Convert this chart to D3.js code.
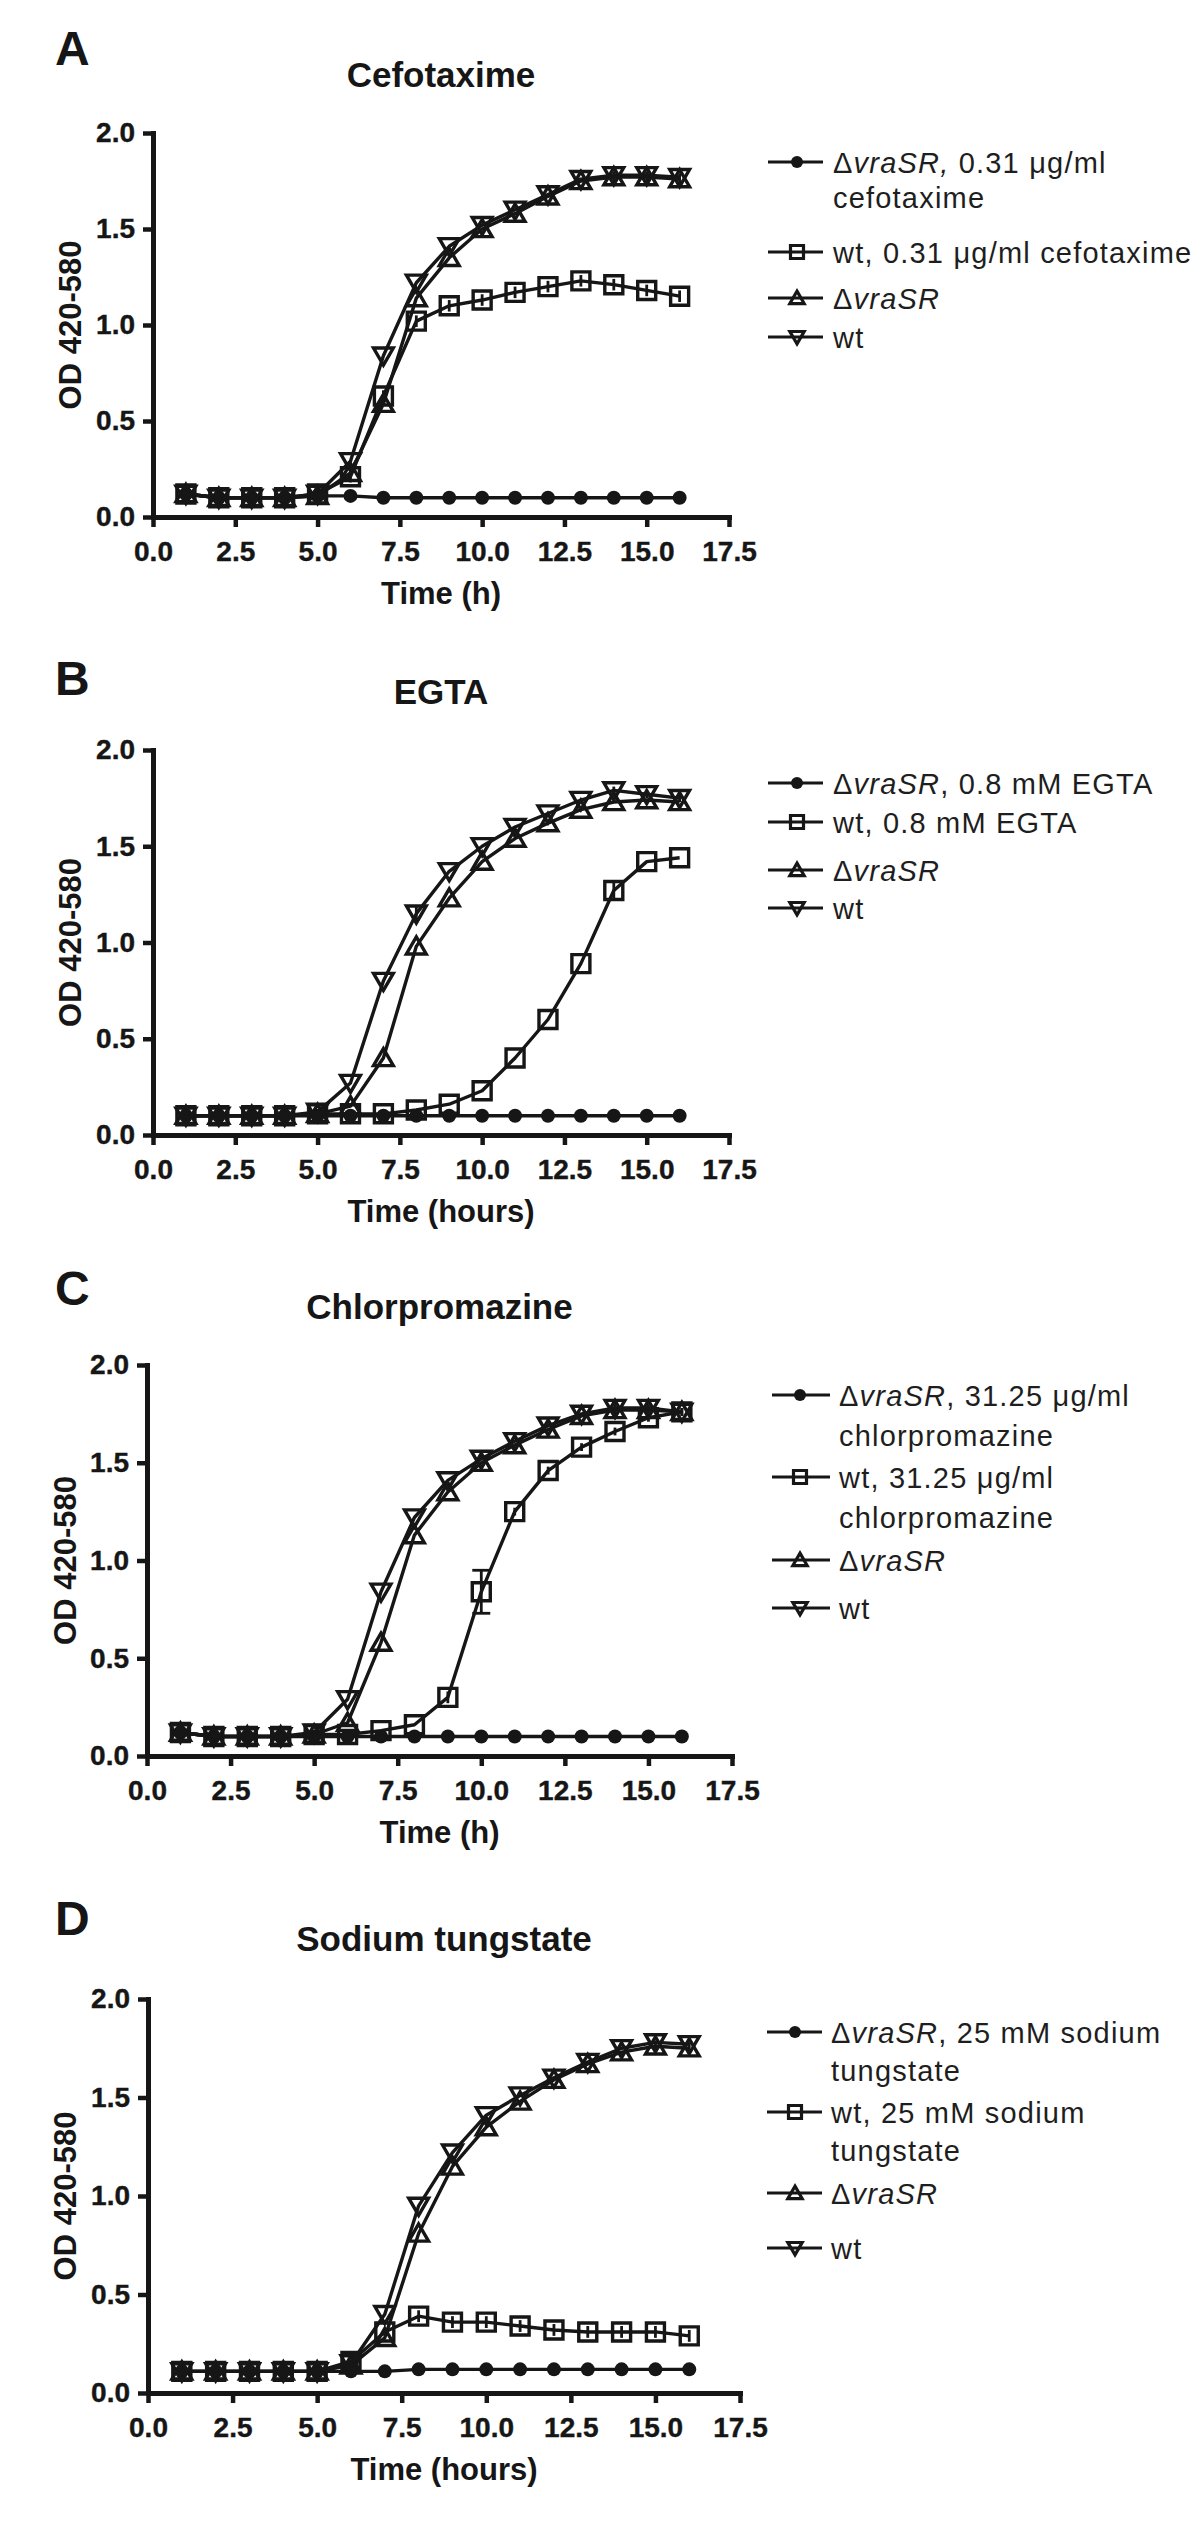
<!DOCTYPE html>
<html><head><meta charset="utf-8">
<script src="https://cdn.jsdelivr.net/npm/d3@7"></script>
<style>body{margin:0;background:#fff}</style>
</head><body>
<svg id="c" width="1200" height="2540" xmlns="http://www.w3.org/2000/svg"></svg>
<script>
// ---------- DATA ----------
const hours = [1,2,3,4,5,6,7,8,9,10,11,12,13,14,15,16];
const xTicks = [0,2.5,5,7.5,10,12.5,15,17.5];
const yTicks = [0,0.5,1,1.5,2];
const yLabel = "OD 420-580";

// Panel A – Cefotaxime
const aCircle = [0.12,0.10,0.10,0.10,0.11,0.11,0.10,0.10,0.10,0.10,0.10,0.10,0.10,0.10,0.10,0.10];
const aSquare = [0.12,0.10,0.10,0.10,0.12,0.21,0.63,1.02,1.10,1.13,1.17,1.20,1.23,1.21,1.18,1.15];
const aUp     = [0.12,0.10,0.10,0.10,0.11,0.23,0.59,1.14,1.35,1.50,1.58,1.67,1.75,1.77,1.77,1.76];
const aDown   = [0.12,0.10,0.10,0.10,0.12,0.29,0.84,1.22,1.41,1.52,1.60,1.68,1.76,1.78,1.78,1.77];
const aSquareErr = [0,0,0,0,0,0.03,0.03,0.03,0.03,0.03,0.03,0.03,0.03,0.03,0.03,0.03];
const aUpErr     = [0,0,0,0,0,0,0,0,0,0,0,0,0,0.03,0.03,0.03];

// Panel B – EGTA
const bCircle = [0.10,0.10,0.10,0.10,0.10,0.10,0.10,0.10,0.10,0.10,0.10,0.10,0.10,0.10,0.10,0.10];
const bSquare = [0.10,0.10,0.10,0.10,0.11,0.11,0.11,0.13,0.16,0.23,0.40,0.60,0.89,1.27,1.42,1.44];
const bUp     = [0.10,0.10,0.10,0.10,0.11,0.15,0.40,0.98,1.23,1.42,1.54,1.62,1.69,1.73,1.74,1.73];
const bDown   = [0.10,0.10,0.10,0.10,0.12,0.27,0.80,1.15,1.37,1.50,1.60,1.67,1.74,1.79,1.77,1.75];
const bSquareErr = [0,0,0,0,0,0,0,0,0,0,0,0,0,0.05,0,0];
const bDownErr   = [0,0,0,0,0,0,0,0.04,0,0,0,0,0,0.02,0.02,0.02];

// Panel C – Chlorpromazine
const cCircle = [0.12,0.10,0.10,0.10,0.10,0.10,0.10,0.10,0.10,0.10,0.10,0.10,0.10,0.10,0.10,0.10];
const cSquare = [0.12,0.10,0.10,0.10,0.11,0.11,0.13,0.16,0.30,0.84,1.25,1.46,1.58,1.66,1.73,1.76];
const cUp     = [0.12,0.10,0.10,0.10,0.11,0.17,0.58,1.13,1.35,1.50,1.59,1.67,1.74,1.77,1.77,1.76];
const cDown   = [0.12,0.10,0.10,0.10,0.12,0.29,0.84,1.22,1.41,1.52,1.61,1.69,1.75,1.78,1.78,1.76];
const cSquareErr = [0,0,0,0,0,0,0,0,0.03,0.11,0.02,0.02,0.02,0.02,0.02,0.02];
const cUpErr     = [0.02,0,0,0,0,0,0,0,0,0,0,0,0,0.03,0.03,0.02];

// Panel D – Sodium tungstate
const dCircle = [0.11,0.11,0.11,0.11,0.11,0.11,0.11,0.12,0.12,0.12,0.12,0.12,0.12,0.12,0.12,0.12];
const dSquare = [0.11,0.11,0.11,0.11,0.11,0.16,0.31,0.39,0.36,0.36,0.34,0.32,0.31,0.31,0.31,0.29];
const dUp     = [0.11,0.11,0.11,0.11,0.11,0.14,0.28,0.81,1.15,1.35,1.48,1.59,1.67,1.73,1.76,1.75];
const dDown   = [0.11,0.11,0.11,0.11,0.11,0.15,0.40,0.95,1.22,1.41,1.51,1.60,1.68,1.75,1.78,1.77];
const dSquareErr = [0,0,0,0,0,0,0.02,0.03,0.03,0.03,0.03,0.03,0.03,0.03,0.03,0.03];
const dUpErr     = [0,0,0,0,0,0,0,0,0,0,0,0,0,0,0.02,0.03];

const titles  = ["Cefotaxime","EGTA","Chlorpromazine","Sodium tungstate"];
const letters = ["A","B","C","D"];
const xLabels = ["Time (h)","Time (hours)","Time (h)","Time (hours)"];
const legendA = [["Δ<i>vraSR,</i> 0.31 μg/ml","cefotaxime"],["wt, 0.31 μg/ml cefotaxime"],["Δ<i>vraSR</i>"],["wt"]];
const legendB = [["Δ<i>vraSR</i>, 0.8 mM EGTA"],["wt, 0.8 mM EGTA"],["Δ<i>vraSR</i>"],["wt"]];
const legendC = [["Δ<i>vraSR</i>, 31.25 μg/ml","chlorpromazine"],["wt, 31.25 μg/ml","chlorpromazine"],["Δ<i>vraSR</i>"],["wt"]];
const legendD = [["Δ<i>vraSR</i>, 25 mM sodium","tungstate"],["wt, 25 mM sodium","tungstate"],["Δ<i>vraSR</i>"],["wt"]];

// ---------- LAYOUT ----------
const layouts = [
  {x0:153,x1:729,yTop:133,yBot:517,letterY:65,titleY:87,yLabX:81,
   leg:{lx0:768,lx1:823,mx:797,tx:833,rows:[162,252,298,337],lh:35}},
  {x0:153,x1:729,yTop:750,yBot:1135,letterY:695,titleY:704,yLabX:81,
   leg:{lx0:768,lx1:823,mx:797,tx:833,rows:[783,822,870,908],lh:35}},
  {x0:147,x1:732,yTop:1365,yBot:1756,letterY:1305,titleY:1319,yLabX:76,
   leg:{lx0:772,lx1:830,mx:800,tx:839,rows:[1395,1477,1560,1608],lh:40}},
  {x0:148,x1:740,yTop:1999,yBot:2393,letterY:1935,titleY:1951,yLabX:76,
   leg:{lx0:767,lx1:822,mx:795,tx:831,rows:[2032,2112,2193,2248],lh:38}}
];

const panelSeries = [
  [[aCircle,null],[aSquare,aSquareErr],[aUp,aUpErr],[aDown,null]],
  [[bCircle,null],[bSquare,bSquareErr],[bUp,null],[bDown,bDownErr]],
  [[cCircle,null],[cSquare,cSquareErr],[cUp,cUpErr],[cDown,null]],
  [[dCircle,null],[dSquare,dSquareErr],[dUp,dUpErr],[dDown,null]]
];
const legends = [legendA,legendB,legendC,legendD];
const shapes = ["circle","square","up","down"];

const FONT = "'Liberation Sans', Arial, Helvetica, sans-serif";
const INK = "#161616";
const svg = d3.select("#c");

function shapePath(shape, s){
  const h = s/2;
  if (shape==="square") return `M${-h},${-h}H${h}V${h}H${-h}Z`;
  if (shape==="up") return `M0,${-h*1.05}L${h*1.1},${h*0.85}L${-h*1.1},${h*0.85}Z`;
  if (shape==="down") return `M0,${h*1.05}L${h*1.1},${-h*0.85}L${-h*1.1},${-h*0.85}Z`;
  return null;
}
function drawMarker(g, shape, cx, cy, s, sw){
  if (shape==="circle"){
    g.append("circle").attr("cx",cx).attr("cy",cy).attr("r",s/2).attr("fill",INK);
  } else {
    g.append("path").attr("d",shapePath(shape,s)).attr("transform",`translate(${cx},${cy})`)
      .attr("fill","none").attr("stroke",INK).attr("stroke-width",sw).attr("stroke-linejoin","miter");
  }
}
function richText(t, str){
  const parts = str.split(/(<i>.*?<\/i>)/);
  parts.forEach(p=>{
    if(!p) return;
    const it = p.startsWith("<i>");
    t.append("tspan").attr("font-style", it?"italic":"normal").text(it?p.slice(3,-4):p);
  });
}

layouts.forEach((L,pi)=>{
  const g = svg.append("g");
  const x = d3.scaleLinear().domain([0,17.5]).range([L.x0,L.x1]);
  const y = d3.scaleLinear().domain([0,2]).range([L.yBot,L.yTop]);

  g.append("text").attr("x",55).attr("y",L.letterY).attr("font-family",FONT)
    .attr("font-weight","bold").attr("font-size",48).attr("fill",INK).text(letters[pi]);
  g.append("text").attr("x",(L.x0+L.x1)/2).attr("y",L.titleY).attr("text-anchor","middle")
    .attr("font-family",FONT).attr("font-weight","bold").attr("font-size",35).attr("fill",INK).text(titles[pi]);

  const ax = g.append("g").attr("transform",`translate(0,${L.yBot})`)
    .call(d3.axisBottom(x).tickValues(xTicks).tickFormat(d3.format(".1f")).tickSize(10).tickSizeOuter(0).tickPadding(14));
  const ay = g.append("g").attr("transform",`translate(${L.x0},0)`)
    .call(d3.axisLeft(y).tickValues(yTicks).tickFormat(d3.format(".1f")).tickSize(10).tickSizeOuter(0).tickPadding(8));
  [ax,ay].forEach(a=>{
    a.select(".domain").attr("stroke",INK).attr("stroke-width",5).attr("stroke-linecap","square");
    a.selectAll(".tick line").attr("stroke",INK).attr("stroke-width",4.5);
    a.selectAll(".tick text").attr("font-family",FONT).attr("font-weight","bold")
      .attr("font-size",28).attr("fill",INK).attr("stroke",INK).attr("stroke-width",0.4);
  });

  g.append("text").attr("x",(L.x0+L.x1)/2).attr("y",L.yBot+87).attr("text-anchor","middle")
    .attr("font-family",FONT).attr("font-weight","bold").attr("font-size",31).attr("fill",INK).text(xLabels[pi]);
  g.append("text").attr("transform",`translate(${L.yLabX},${(L.yTop+L.yBot)/2}) rotate(-90)`)
    .attr("text-anchor","middle").attr("font-family",FONT).attr("font-weight","bold")
    .attr("font-size",31).attr("fill",INK).text(yLabel);

  const line = d3.line().x((d,i)=>x(hours[i])).y(d=>y(d));
  const series = panelSeries[pi];
  series.forEach(([vals])=>{
    g.append("path").datum(vals).attr("d",line).attr("fill","none")
      .attr("stroke",INK).attr("stroke-width",3.4).attr("stroke-linejoin","round");
  });
  series.forEach(([vals,errs])=>{
    if(!errs) return;
    vals.forEach((v,i)=>{
      const e = errs[i]; if(!e) return;
      const cx = x(hours[i]), ya = y(v+e), yb = y(v-e);
      g.append("line").attr("x1",cx).attr("x2",cx).attr("y1",ya).attr("y2",yb)
        .attr("stroke",INK).attr("stroke-width",2.8);
      if (yb-ya > 20){
        [ya,yb].forEach(yy=>g.append("line").attr("x1",cx-9).attr("x2",cx+9).attr("y1",yy).attr("y2",yy)
          .attr("stroke",INK).attr("stroke-width",2.8));
      }
    });
  });
  series.forEach(([vals],si)=>{
    const sh = shapes[si];
    vals.forEach((v,i)=>{
      drawMarker(g, sh, x(hours[i]), y(v), sh==="circle"?14:18, 3.4);
    });
  });

  const lg = L.leg;
  legends[pi].forEach((lines,ri)=>{
    const cy = lg.rows[ri];
    g.append("line").attr("x1",lg.lx0).attr("x2",lg.lx1).attr("y1",cy).attr("y2",cy)
      .attr("stroke",INK).attr("stroke-width",3.2);
    drawMarker(g, shapes[ri], lg.mx, cy, shapes[ri]==="circle"?12:13, 3.2);
    lines.forEach((ln,li)=>{
      const t = g.append("text").attr("x",lg.tx).attr("y",cy+11+li*lg.lh)
        .attr("font-family",FONT).attr("font-size",29).attr("letter-spacing","1.2px").attr("fill","#1e1e1e");
      richText(t, ln);
    });
  });
});
</script>
</body></html>
